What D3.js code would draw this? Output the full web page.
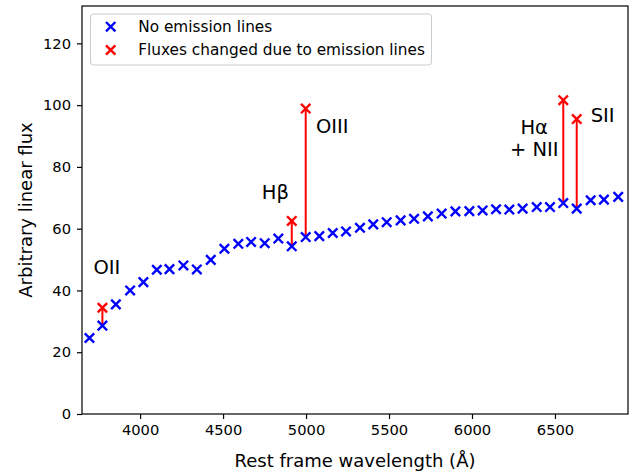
<!DOCTYPE html>
<html>
<head>
<meta charset="utf-8">
<script src="https://cdn.jsdelivr.net/npm/d3@7"></script>
<style>
  body { margin: 0; background: #fff; }
  text { font-family: "DejaVu Sans", sans-serif; fill: #000; }
</style>
</head>
<body>
<div id="chart"></div>
<script>
// Define SVG area dimensions
var svgWidth = 633;
var svgHeight = 474;

var margin = { top: 6, right: 5, bottom: 60, left: 82 };

var chartWidth = svgWidth - margin.left - margin.right;
var chartHeight = svgHeight - margin.top - margin.bottom;

// Data
var wavelengths = [3695, 3773, 3854, 3940, 4020, 4101, 4177, 4261, 4342, 4426,
  4508, 4592, 4669, 4751, 4833, 4914, 4998, 5080, 5161, 5241,
  5325, 5405, 5486, 5570, 5651, 5734, 5817, 5900, 5984, 6064,
  6145, 6225, 6305, 6390, 6470, 6550, 6631, 6715, 6795, 6881];
var fluxes = [24.6, 28.6, 35.5, 40.0, 42.7, 46.7, 46.9, 48.1, 46.8, 49.9,
  53.5, 55.1, 55.7, 55.3, 56.8, 54.3, 57.3, 57.6, 58.6, 59.1,
  60.3, 61.4, 62.1, 62.7, 63.2, 64.0, 64.9, 65.6, 65.7, 65.9,
  66.3, 66.2, 66.5, 67.0, 67.0, 68.3, 66.5, 69.2, 69.4, 70.3];

// Points whose fluxes change because of emission lines
var emissionWavelengths = [3773, 4914, 4998, 6550, 6631];
var emissionFluxes = [34.4, 62.5, 98.9, 101.6, 95.5];

// Line labels (data coordinates)
var labelTexts = ["OII", "H\u03b2", "OIII", "H\u03b1", "+ NII", "SII"];
var labelX = [3719, 4733, 5060, 6375, 6375, 6715];
var labelY = [45.4, 69.7, 91.1, 90.6, 83.4, 94.4];
var labelAnchor = ["start", "start", "start", "middle", "middle", "start"];

var xTicks = [4000, 4500, 5000, 5500, 6000, 6500];
var yTicks = [0, 20, 40, 60, 80, 100, 120];

var legendLabels = ["No emission lines", "Fluxes changed due to emission lines"];
var legendColors = ["#0000ff", "#ff0000"];

var svg = d3.select("#chart")
  .append("svg")
  .attr("width", svgWidth)
  .attr("height", svgHeight);

var chartGroup = svg.append("g")
  .attr("transform", `translate(${margin.left}, ${margin.top})`);

// scales
var x = d3.scaleLinear().domain([3650, 6940]).range([0, chartWidth]);
var y = d3.scaleLinear().domain([0, 132.1]).range([chartHeight, 0]);

// axes
var xAxis = d3.axisBottom(x).tickValues(xTicks).tickSize(5).tickPadding(6).tickFormat(d3.format("d"));
var yAxis = d3.axisLeft(y).tickValues(yTicks).tickSize(5).tickPadding(6);

var gx = chartGroup.append("g")
  .attr("transform", `translate(0, ${chartHeight})`)
  .call(xAxis);
var gy = chartGroup.append("g").call(yAxis);

[gx, gy].forEach(function(g) {
  g.select(".domain").remove();
  g.selectAll(".tick line").attr("stroke", "#000").attr("stroke-width", 1.2);
  g.selectAll(".tick text").style("font-family", "DejaVu Sans").style("font-size", "14.7px").attr("fill", "#000");
});

// frame
chartGroup.append("rect")
  .attr("width", chartWidth)
  .attr("height", chartHeight)
  .attr("fill", "none")
  .attr("stroke", "#000")
  .attr("stroke-width", 1.2);

// axis labels
svg.append("text")
  .attr("x", margin.left + chartWidth / 2)
  .attr("y", 467)
  .attr("text-anchor", "middle")
  .style("font-size", "18px")
  .text("Rest frame wavelength (\u00c5)");

svg.append("text")
  .attr("transform", `translate(32, ${margin.top + chartHeight / 2}) rotate(-90)`)
  .attr("text-anchor", "middle")
  .style("font-size", "18px")
  .text("Arbitrary linear flux");

// cross marker path
function cross(cx, cy, h) {
  return `M${cx - h},${cy - h}L${cx + h},${cy + h}M${cx - h},${cy + h}L${cx + h},${cy - h}`;
}

var baseData = wavelengths.map(function(w, i) { return { w: w, f: fluxes[i] }; });
var emData = emissionWavelengths.map(function(w, i) {
  var base = fluxes[wavelengths.indexOf(w)];
  return { w: w, f: emissionFluxes[i], base: base };
});

// red vertical lines
chartGroup.selectAll(".emline")
  .data(emData)
  .enter()
  .append("line")
  .attr("x1", d => x(d.w))
  .attr("x2", d => x(d.w))
  .attr("y1", d => y(d.base))
  .attr("y2", d => y(d.f))
  .attr("stroke", "#ff0000")
  .attr("stroke-width", 2);

// blue points
chartGroup.selectAll(".pt")
  .data(baseData)
  .enter()
  .append("path")
  .attr("d", d => cross(x(d.w), y(d.f), 4.7))
  .attr("stroke", "#0000ff")
  .attr("stroke-width", 2.4)
  .attr("fill", "none");

// red points
chartGroup.selectAll(".ept")
  .data(emData)
  .enter()
  .append("path")
  .attr("d", d => cross(x(d.w), y(d.f), 4.7))
  .attr("stroke", "#ff0000")
  .attr("stroke-width", 2.4)
  .attr("fill", "none");

// line labels
chartGroup.selectAll(".lbl")
  .data(labelTexts)
  .enter()
  .append("text")
  .attr("x", (d, i) => x(labelX[i]))
  .attr("y", (d, i) => y(labelY[i]))
  .attr("text-anchor", (d, i) => labelAnchor[i])
  .style("font-size", "19.5px")
  .text(d => d);

// legend
var legend = svg.append("g").attr("transform", "translate(90.5, 14)");
legend.append("rect")
  .attr("width", 341)
  .attr("height", 51)
  .attr("rx", 3)
  .attr("fill", "#fff")
  .attr("fill-opacity", 0.8)
  .attr("stroke", "#cccccc")
  .attr("stroke-width", 1);

legendLabels.forEach(function(lbl, i) {
  var ly = 12.7 + i * 23.3;
  legend.append("path")
    .attr("d", cross(20.2, ly, 4.7))
    .attr("stroke", legendColors[i])
    .attr("stroke-width", 2.4)
    .attr("fill", "none");
  legend.append("text")
    .attr("x", 47.8)
    .attr("y", ly + 5.3)
    .style("font-size", "15.3px")
    .text(lbl);
});
</script>
</body>
</html>
